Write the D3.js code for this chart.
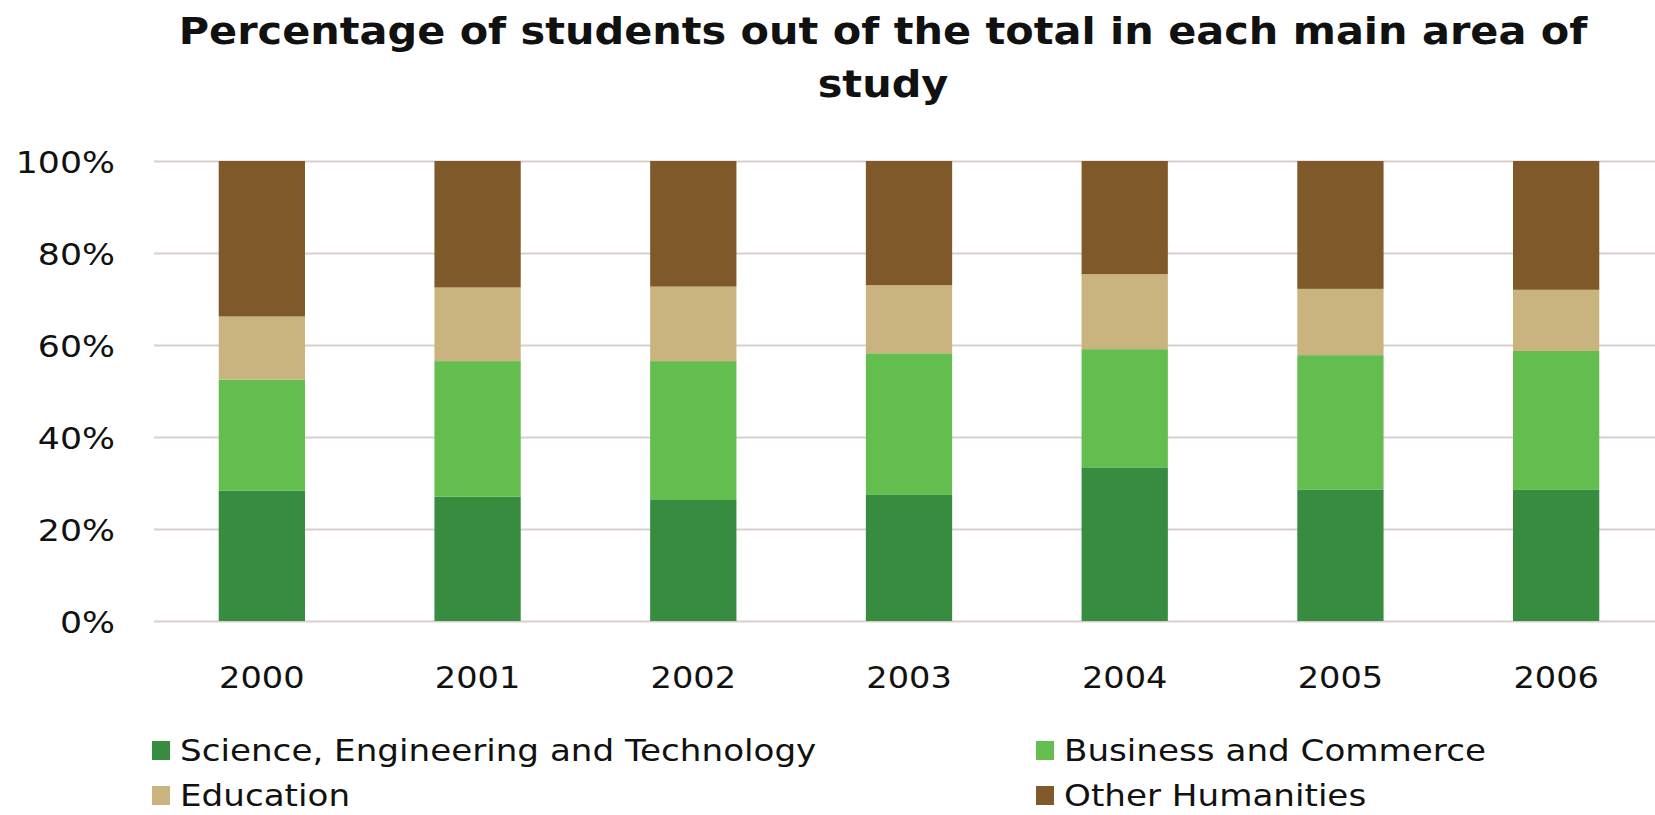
<!DOCTYPE html>
<html>
<head>
<meta charset="utf-8">
<script src="https://cdn.jsdelivr.net/npm/d3@7"></script>
<style>
  html, body { margin: 0; padding: 0; background: #ffffff; }
  svg { display: block; }
  text { font-family: "DejaVu Sans", Verdana, sans-serif; fill: #111; }
</style>
</head>
<body>
<svg id="chart" width="1655" height="815"></svg>
<script>
// Share of students (%) by main area of study, per year
const years = ["2000", "2001", "2002", "2003", "2004", "2005", "2006"];
const seriesNames = [
  "Science, Engineering and Technology",
  "Business and Commerce",
  "Education",
  "Other Humanities"
];
const science   = [28.3, 27.0, 26.3, 27.4, 33.4, 28.6, 28.5];
const business  = [24.2, 29.5, 30.2, 30.8, 25.7, 29.2, 30.2];
const education = [13.7, 16.0, 16.2, 14.8, 16.3, 14.4, 13.3];
const other     = [33.8, 27.5, 27.3, 27.0, 24.6, 27.8, 28.0];
const yTicks = [0, 20, 40, 60, 80, 100];
const titleLines = ["Percentage of students out of the total in each main area of", "study"];

const colors = ["#388c3f", "#64bd4f", "#c9b47f", "#80592a"];
const seriesValues = [science, business, education, other];

const svg = d3.select("#chart");
const sx = 1.12; // horizontal stretch applied to all labels

const margin = { left: 154, right: -9, top: 161, bottom: 194 };
const W = 1655, H = 815;
const plotW = W - margin.left - margin.right;
const plotH = H - margin.top - margin.bottom;

// Rows for the stack layout
const rows = years.map((yr, i) => {
  const r = { year: yr };
  seriesNames.forEach((s, k) => { r[s] = seriesValues[k][i]; });
  return r;
});
const stacked = d3.stack().keys(seriesNames)(rows);

const x = d3.scaleBand().domain(years).range([0, plotW]).paddingInner(0.6).paddingOuter(0.3);
const y = d3.scaleLinear().domain([0, 100]).range([plotH, 0]);

const g = svg.append("g").attr("transform", `translate(${margin.left},${margin.top})`);

// Gridlines and y labels
const yAxis = g.append("g")
  .call(d3.axisLeft(y).tickValues(yTicks).tickSize(-plotW).tickPadding(0).tickFormat(d => d + "%"));
yAxis.select(".domain").remove();
yAxis.selectAll(".tick line").attr("stroke", "#d9cfcb").attr("stroke-width", 2);
yAxis.selectAll(".tick text")
  .attr("x", -39 / sx)
  .attr("dy", "0.37em")
  .attr("transform", `scale(${sx},1)`)
  .style("font-size", "31px")
  .style("font-family", '"DejaVu Sans", Verdana, sans-serif')
  .attr("fill", "#111");

// Stacked bars
g.append("g").selectAll("g")
  .data(stacked)
  .join("g")
  .attr("fill", (d, i) => colors[i])
  .selectAll("rect")
  .data(d => d)
  .join("rect")
  .attr("x", d => x(d.data.year))
  .attr("width", x.bandwidth())
  .attr("y", d => y(d[1]))
  .attr("height", d => y(d[0]) - y(d[1]));

// Year labels
const xAxis = g.append("g")
  .attr("transform", `translate(0,${plotH})`)
  .call(d3.axisBottom(x).tickSize(0).tickPadding(46));
xAxis.select(".domain").remove();
xAxis.selectAll(".tick text")
  .attr("transform", `scale(${sx},1)`)
  .style("font-size", "30px")
  .style("font-family", '"DejaVu Sans", Verdana, sans-serif')
  .attr("fill", "#111");

// Title
const title = svg.append("g").attr("transform", `translate(883,0) scale(${sx},1)`);
title.selectAll("text")
  .data(titleLines)
  .join("text")
  .attr("x", 0)
  .attr("y", (d, i) => 44 + i * 53)
  .attr("text-anchor", "middle")
  .style("font-size", "37px")
  .style("font-weight", "bold")
  .text(d => d);

// Legend: two columns, two rows
const legendPos = [
  { x: 152, y: 761 },
  { x: 1036, y: 761 },
  { x: 152, y: 806 },
  { x: 1036, y: 806 }
];
const legend = svg.append("g").selectAll("g")
  .data(seriesNames)
  .join("g")
  .attr("transform", (d, i) => `translate(${legendPos[i].x},${legendPos[i].y})`);
legend.append("rect")
  .attr("x", 0).attr("y", -20).attr("width", 18).attr("height", 19)
  .attr("fill", (d, i) => colors[i]);
legend.append("text")
  .attr("transform", `translate(28,0) scale(${sx},1)`)
  .style("font-size", "30.5px")
  .text(d => d);
</script>
</body>
</html>
